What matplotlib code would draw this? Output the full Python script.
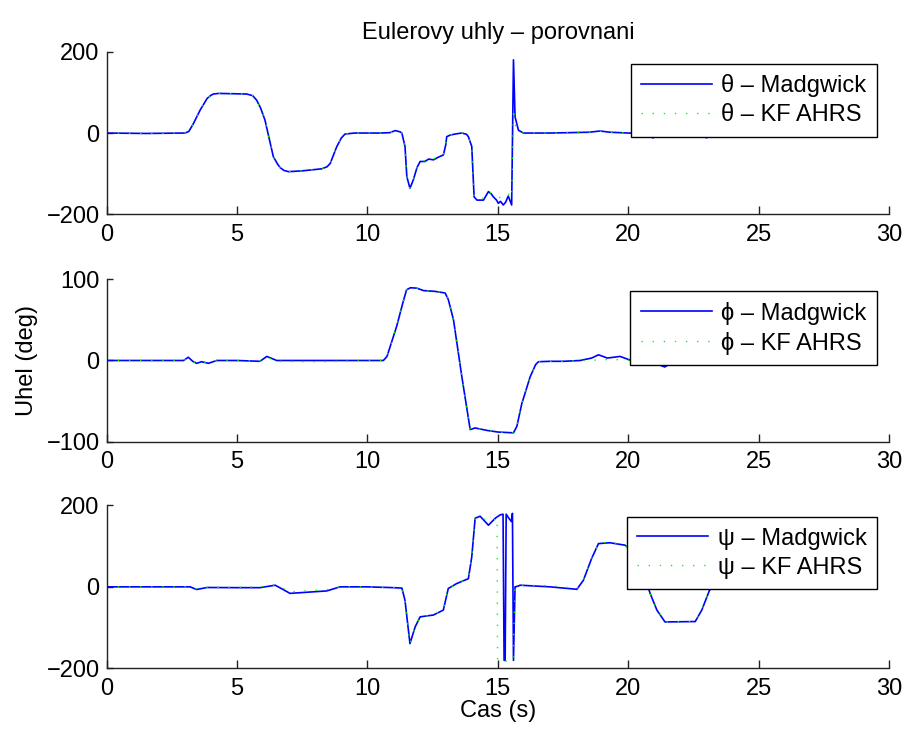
import matplotlib
matplotlib.use('Agg')
import matplotlib.pyplot as plt

plt.rcParams['font.family'] = ['Liberation Sans', 'DejaVu Sans']
plt.rcParams['font.size'] = 17

# theta - Madgwick vs KF AHRS
theta_t = [0, 1.5, 3.0, 3.15, 3.3, 3.58, 3.85, 4.0, 4.09, 4.3, 5.37, 5.6,
           5.75, 5.9, 6.07, 6.39, 6.55, 6.65, 6.8, 6.97, 7.5, 8.25, 8.45, 8.57, 8.82,
           9.0, 9.14, 9.5, 10.5, 10.87, 11.06, 11.25, 11.32, 11.44, 11.51,
           11.63, 11.76, 11.9, 12.02, 12.2, 12.35, 12.53, 12.7, 12.91, 13.0,
           13.04, 13.17, 13.4, 13.62, 13.8, 13.87, 14.0, 14.09, 14.2, 14.45,
           14.64, 14.75, 14.83, 14.95, 15.02, 15.1, 15.21, 15.3, 15.4, 15.53,
           15.6, 15.66, 15.79, 15.98, 17.0, 18.5, 18.92, 19.3, 20.0, 20.7,
           20.95, 21.2, 21.6, 22.5, 22.85, 23.0, 23.15, 23.3]
theta_mad = [0, -1, 0, 4, 20, 56, 85, 93, 96, 97.5, 96, 92,
             81, 62, 32, -58, -76, -85, -92, -95, -93, -88, -83, -75, -34,
             -12, -2.5, 0, 0, 1, 6, 3, 0, -33, -107,
             -136, -115, -85, -70, -70, -64, -66, -60, -54, -30,
             -9, -5, -2, 0, -3, -9, -33, -157, -165, -165,
             -144, -150, -157, -165, -173, -168, -177, -170, -155, -177,
             180, 40, 7, 0, 0, 2, 5, 2, 0, -1,
             -12, -2, 0, 0, -3, -12, -3, 0]
theta_kf = [0, -1, 0, 4, 20, 56, 85, 93, 96, 97.5, 96, 92,
            81, 62, 32, -58, -76, -85, -92, -95, -93, -88, -83, -75, -34,
            -12, -2.5, 0, 0, 1, 5, 3, 0, -33, -107,
            -136, -115, -85, -70, -68, -62, -64, -58, -54, -30,
            -9, -5, -2, 0, -3, -9, -33, -157, -162, -160,
            -144, -148, -152, -155, -160, -158, -160, -152, -150, -160,
            60, 20, 5, 0, 0, 1, 4, 2, 0, -1,
            -12, -2, 0, 0, -3, -12, -3, 0]

phi_t = [0, 1.5, 2.95, 3.13, 3.3, 3.45, 3.64, 3.9, 4.22, 5.0,
         5.88, 6.14, 6.52, 8.0, 10.61, 10.75, 10.87, 11.12, 11.35, 11.5, 11.65, 11.89,
         12.15, 12.6, 12.98, 13.1, 13.3, 13.62, 13.94, 14.13, 14.58, 15.0,
         15.6, 15.73, 15.92, 16.24, 16.45, 16.56, 17.0, 17.52, 18.16, 18.3, 18.6,
         18.86, 19.2, 19.69, 20.07, 20.6, 21.0, 21.4, 21.7, 22.5, 23.3]
phi_mad = [0, 0, 0, 4, -1, -3.5, -1.5, -3.5, 0, 0,
           -1, 5, 0, 0, 0, 5, 17, 42, 70, 87, 89.5, 89,
           86, 85, 83, 75, 50, -20, -85, -83, -86, -88,
           -89, -81, -53, -20, -5, -1.5, -1, -1, 0, 1, 3,
           7, 3, 5, 0.5, -2, -3, -8, -2, 0, 0]
phi_kf = [0, 0, 0, 3, -1, -3, -1.5, -3, 0, 0,
          -1, 4, -1, -1.5, 0, 5, 17, 42, 70, 87, 89.5, 89,
          86, 85, 83, 75, 50, -20, -85, -83, -86, -88,
          -89, -81, -53, -20, -5, -1.5, -1, -1, 0, 0, 0,
          1, 1, 1, 0, -2, -3, -6, -2, 0, 0]

psi_t = [0, 1.5, 3.2, 3.45, 3.85, 5.0, 5.88, 6.46, 6.75, 7.03,
         8.44, 8.95, 10.0, 11.0, 11.32, 11.44, 11.63, 11.83, 12.02, 12.53,
         12.91, 13.1, 13.42, 13.87, 14.0, 14.13, 14.32, 14.64, 14.9, 15.08,
         15.2, 15.24, 15.28, 15.32, 15.4, 15.52, 15.56, 15.6, 15.66, 15.79,
         15.85, 17.0, 18.03, 18.28, 18.6, 18.86, 19.3, 19.88, 20.3, 20.6,
         20.84, 21.1, 21.41, 22.57, 22.82, 23.12, 23.3]
psi_mad = [0, 0, 0, -6.5, -1.6, -2, -2, 4, -6, -16,
           -10, 0, 0, -2, -3, -33, -139, -98, -73.5, -69,
           -57, -4, 8, 20, 73, 168, 173, 151, 168, 176,
           178, -180, -180, 178, 170, 160, 180, -180, 0, 2,
           4, 0, -6, 16, 70, 106, 108, 102, 80, 30,
           -16, -57, -86, -85, -57, -8, 0]
psi_kf_t = [0, 1.5, 3.2, 3.45, 3.85, 5.0, 5.88, 6.46, 6.75, 7.03,
            8.44, 8.95, 10.0, 11.0, 11.32, 11.44, 11.63, 11.83, 12.02, 12.53,
            12.91, 13.1, 13.42, 13.87, 14.0, 14.13, 14.32, 14.64, 14.9, 14.97,
            14.99, 15.3, 15.58, 15.66, 15.79, 17.0, 18.03, 18.28, 18.6, 18.86,
            19.3, 19.88, 20.3, 20.6, 20.84, 21.1, 21.41, 22.57, 22.82, 23.12, 23.3]
psi_kf = [0, 0, 0, -5, -1, -1, 0, 5, -3, -12,
          -7, 0, 0, -2, -3, -33, -139, -98, -73.5, -69,
          -57, -4, 8, 20, 73, 168, 172, 160, 165, 170,
          -182, -182, -182, 0, 4, 3, -4, 16, 70, 106,
          110, 102, 80, 30, -16, -57, -86, -85, -57, -8, 0]

subplots = [
    (theta_t, theta_mad, theta_t, theta_kf, 'θ', [-200, 0, 200]),
    (phi_t, phi_mad, phi_t, phi_kf, 'ϕ', [-100, 0, 100]),
    (psi_t, psi_mad, psi_kf_t, psi_kf, 'ψ', [-200, 0, 200]),
]
# axes rectangles in figure fractions
rects = [[0.118, 0.706, 0.8654, 0.223],
         [0.118, 0.394, 0.8654, 0.223],
         [0.118, 0.083, 0.8654, 0.224]]

fig = plt.figure(figsize=(9.04, 7.29), dpi=100)
axes = []
for rect, (tm, ym, tk, yk, sym, yt) in zip(rects, subplots):
    ax = fig.add_axes(rect)
    ax.plot(tm, ym, color='blue', lw=1.2, label=sym + ' – Madgwick')
    ax.plot(tk, yk, color=(0, 1, 0), lw=1.0, linestyle=(0, (1, 7)),
            label=sym + ' – KF AHRS')
    ax.set_xlim(0, 30)
    ax.set_ylim(yt[0], yt[-1])
    ax.set_yticks(yt)
    ax.set_xticks(range(0, 31, 5))
    for s in ['top', 'right']:
        ax.spines[s].set_visible(False)
    for s in ['left', 'bottom']:
        ax.spines[s].set_color('#222222')
        ax.spines[s].set_linewidth(1.0)
    ax.tick_params(axis='x', direction='in', length=5.5, width=1, pad=7, colors='#222222', labelcolor='black')
    ax.tick_params(axis='y', direction='in', length=4, width=1, pad=5, colors='#222222', labelcolor='black')
    leg = ax.legend(loc='upper right', fontsize=17, handlelength=3.0, handletextpad=0.4,
                    borderpad=0.45, labelspacing=0.3, borderaxespad=0.5,
                    fancybox=False, framealpha=1)
    leg.get_frame().set_edgecolor('black')
    leg.get_frame().set_linewidth(1.0)
    axes.append(ax)

axes[0].set_title('Eulerovy uhly – porovnani', fontsize=17, pad=9)
axes[1].set_ylabel('Uhel (deg)', labelpad=6)
axes[2].set_xlabel('Cas (s)', labelpad=0)

plt.savefig('out.png', dpi=100)
plt.close()
